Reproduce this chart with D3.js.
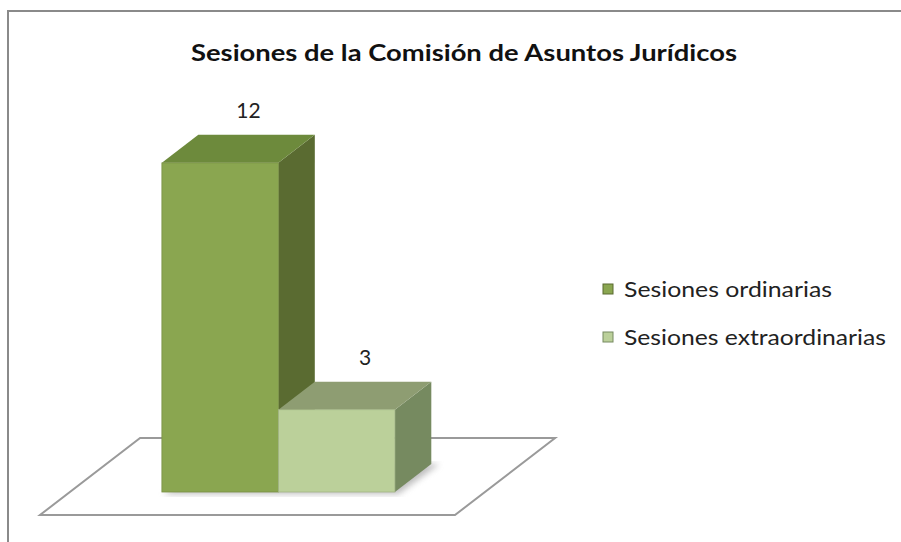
<!DOCTYPE html>
<html><head><meta charset="utf-8">
<script src="https://cdn.jsdelivr.net/npm/d3@7"></script>
<style>body{margin:0;background:#fff}svg{display:block}</style>
</head><body>
<svg id="c" width="901" height="542"></svg>
<script>
const title = "Sesiones de la Comisión de Asuntos Jurídicos";
const series = ["Sesiones ordinarias", "Sesiones extraordinarias"];
const values = [12, 3];
const frontColors = ["#8aa650", "#bbd09a"];
const topColors = ["#6d8a3c", "#8e9d72"];
const sideColors = ["#5a6b31", "#768a60"];

const svg = d3.select("#c");
// outer frame
svg.append("path").attr("d","M8,542 V11 H901").attr("fill","none").attr("stroke","#8a8a8a").attr("stroke-width",2);

// projection: floor-plane x (u), value height (h), depth z (px)
const X0 = 40, Y0 = 515, KX = 1.3;
const proj = (u, h, z) => [X0 + u + z * KX, Y0 - h - z];

const x = d3.scaleBand().domain(series).range([92, 325]).paddingInner(0).paddingOuter(0);
const y = d3.scaleLinear().domain([0, 14]).range([0, 384]);
const zFront = 23, zBack = 51, floorDepth = 77, floorW = 415;

// floor
const floorPts = [proj(0,0,0), proj(floorW,0,0), proj(floorW,0,floorDepth), proj(0,0,floorDepth)];
svg.append("polygon").attr("points", floorPts.map(p=>p.join(",")).join(" "))
  .attr("fill","#fff").attr("stroke","#9a9a9a").attr("stroke-width",2);

const defs = svg.append("defs");
defs.append("filter").attr("id","blur").append("feGaussianBlur").attr("stdDeviation",3);

const g = svg.append("g");
const poly = (pts, fill) => g.append("polygon").attr("points", pts.map(p=>p.join(",")).join(" ")).attr("fill", fill);

// shadow
{
  const u0 = x(series[0]), u1 = x(series[1]) + x.bandwidth();
  const pts = [proj(u0+4,0,zFront-2), proj(u1+6,0,zFront-2), proj(u1+8,0,zBack), proj(u0+6,0,zBack)];
  g.append("polygon").attr("points", pts.map(p=>p.join(",")).join(" "))
   .attr("fill","#888").attr("opacity",0.55).attr("filter","url(#blur)");
}

series.forEach((s, i) => {
  const u0 = x(s), u1 = x(s) + x.bandwidth(), h = y(values[i]);
  poly([proj(u1,0,zFront), proj(u1,0,zBack), proj(u1,h,zBack), proj(u1,h,zFront)], sideColors[i]);
  poly([proj(u0,h,zFront), proj(u1,h,zFront), proj(u1,h,zBack), proj(u0,h,zBack)], topColors[i]);
  const f = proj(u0,h,zFront), fb = proj(u1,0,zFront);
  g.append("rect").attr("x", f[0]).attr("y", f[1]).attr("width", fb[0]-f[0]).attr("height", fb[1]-f[1])
    .attr("fill", frontColors[i]).attr("stroke", d3.color(frontColors[i]).darker(0.4)).attr("stroke-width",0.8);
  const lb = proj((u0+u1)/2, h, zBack);
  svg.append("text").attr("x", lb[0]-8).attr("y", lb[1]-17).attr("text-anchor","middle")
    .attr("font-family","Lato, sans-serif").attr("font-size",21).attr("fill","#222").text(values[i]);
});

// title
svg.append("text").attr("x",464).attr("y",61).attr("text-anchor","middle")
  .attr("font-family","Lato, sans-serif").attr("font-weight",700).attr("font-size",23)
  .attr("textLength",546).attr("lengthAdjust","spacingAndGlyphs").attr("fill","#111").text(title);

// legend
const legW = [208, 262];
series.forEach((s, i) => {
  const ly = 289 + i*48;
  svg.append("rect").attr("x",603).attr("y",ly-5).attr("width",10).attr("height",10)
    .attr("fill",frontColors[i]).attr("stroke",sideColors[i]).attr("stroke-width",1);
  svg.append("text").attr("x",624).attr("y",ly+8).attr("font-family","Lato, sans-serif")
    .attr("font-size",21).attr("fill","#222").attr("textLength",legW[i]).attr("lengthAdjust","spacingAndGlyphs").text(s);
});
</script>
</body></html>
